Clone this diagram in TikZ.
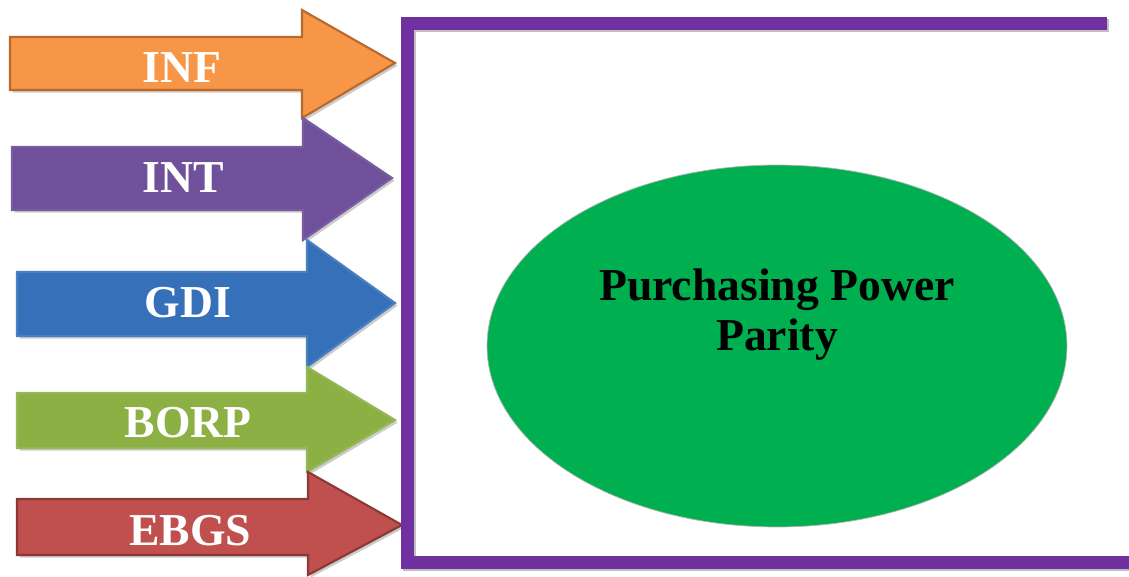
\documentclass[tikz,border=0pt]{standalone}
\usepackage{fontspec}
\setmainfont{Liberation Serif}
\usepackage{tikz}
\usetikzlibrary{positioning, shapes.geometric, shadows}
\definecolor{frameviolet}{HTML}{7030A0}
\definecolor{pppgreen}{HTML}{00B050}
\definecolor{infA}{HTML}{F79646}
\definecolor{infL}{HTML}{B8692E}
\definecolor{intA}{HTML}{6E519A}
\definecolor{intL}{HTML}{7A5CA0}
\definecolor{gdiA}{HTML}{3670B8}
\definecolor{gdiL}{HTML}{4A7FC0}
\definecolor{borpA}{HTML}{8CB044}
\definecolor{borpL}{HTML}{94B856}
\definecolor{ebgsA}{HTML}{C0504D}
\definecolor{ebgsL}{HTML}{8C3836}

\begin{document}
\begin{tikzpicture}[x=0.02cm, y=0.02cm,
    arrowlabel/.style={text=white, font=\fontsize{26}{30}\selectfont\bfseries,
                       anchor=base, inner sep=0pt},
    factorarrow/.style={line width=1.2pt, line join=miter,
                        drop shadow={shadow xshift=1.5pt, shadow yshift=-1.5pt,
                                     fill=black, opacity=0.2}}]
    \useasboundingbox (0,0) rectangle (1129,-577);

    % input arrows
    \foreach \nm/\ca/\cl/\lft/\bt/\bb/\hx/\ht/\hb/\tx/\ty/\lx/\ly in
      {INF/infA/infL/10/37/90/302/10/118/395/63/182/83,
       INT/intA/intL/12/147/210/303/118/240/392/178/183/193,
       GDI/gdiA/gdiL/17/272/336/307/240/367/395/303/188/318,
       BORP/borpA/borpL/17/393/448/307/367/472/395/420/188/438,
       EBGS/ebgsA/ebgsL/17/499/555/308/472/575/402/525/190/545}{
      \draw[factorarrow, fill=\ca, draw=\cl]
        (\lft,-\bt) -- (\hx,-\bt) -- (\hx,-\ht) -- (\tx,-\ty) -- (\hx,-\hb)
        -- (\hx,-\bb) -- (\lft,-\bb) -- cycle;
      \node[arrowlabel] (lbl-\nm) at (\lx,-\ly) {\nm};
    }

    % open frame
    \draw[black!25, line width=7.4pt] (1109,-26) -- (409,-26) -- (409,-564) -- (1129,-564);
    \draw[frameviolet, line width=7.4pt, line join=miter]
      (1107,-24) -- (407,-24) -- (407,-562) -- (1129,-562);

    \node[ellipse, fill=pppgreen, draw=black!30, thin,
          minimum width=11.6cm, minimum height=7.24cm] (ppp) at (777,-346) {};
    \node[align=center, font=\fontsize{26}{28.5}\selectfont\bfseries, inner sep=0pt]
      (ppp-text) at ([yshift=0.62cm]ppp.center) {Purchasing Power\\Parity};
  \end{tikzpicture}
\end{document}
